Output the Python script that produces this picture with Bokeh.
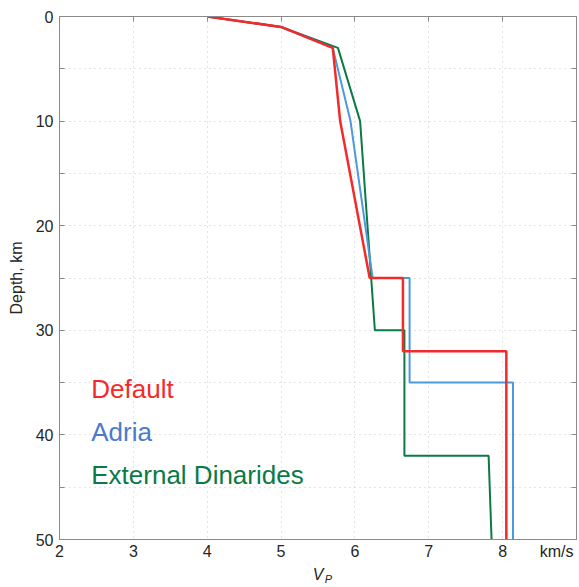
from bokeh.plotting import figure
from bokeh.models import Range1d, FixedTicker, LinearAxis
from bokeh.embed import file_html
from bokeh.resources import INLINE

# Data (Vp in km/s, depth in km)
vp_default = [4.0, 5.0, 5.7, 5.8, 6.2, 6.65, 6.65, 8.05, 8.05]
z_default = [0, 1, 3, 10, 25, 25, 32, 32, 50]
vp_adria = [4.0, 5.0, 5.7, 5.94, 6.24, 6.74, 6.74, 8.14, 8.14]
z_adria = [0, 1, 3, 10, 25, 25, 35, 35, 50]
vp_ext = [4.0, 5.0, 5.77, 6.07, 6.27, 6.67, 6.67, 7.81, 7.85]
z_ext = [0, 1, 3, 10, 30, 30, 42, 42, 50]

x_ticks = [2, 3, 4, 5, 6, 7, 8, 9]
y_ticks = [0, 5, 10, 15, 20, 25, 30, 35, 40, 45, 50]
legend_names = ["Default", "Adria", "External Dinarides"]
unit_label = "km/s"

RED = "#f32a2a"
BLUE = "#4c9ad8"
GREEN = "#0b7a45"
AX = "#8a8a8a"
TXT = "#262626"
FONT = "Liberation Sans"

p = figure(width=579, height=587, output_backend="svg", toolbar_location=None,
           x_range=Range1d(2, 9), y_range=Range1d(50, 0),
           min_border_left=59, min_border_right=3, min_border_top=16, min_border_bottom=47,
           outline_line_color=AX, outline_line_width=1)
p.xaxis.visible = False
p.yaxis.visible = False

xt = FixedTicker(ticks=x_ticks)
yt = FixedTicker(ticks=y_ticks)

def base_style(ax):
    ax.axis_line_color = AX
    ax.major_tick_line_color = AX
    ax.major_tick_in = 5
    ax.major_tick_out = 0
    ax.minor_tick_line_color = None
    ax.major_label_text_font = FONT
    ax.major_label_text_color = TXT

# bottom axis: numbers plus the unit label
unit_pos = 8.73
xb = LinearAxis(ticker=FixedTicker(ticks=x_ticks[:-1] + [unit_pos]),
                major_label_overrides={unit_pos: unit_label},
                axis_label="V")
base_style(xb)
xb.major_tick_in = 0
xb.major_label_text_font_size = "16px"
xb.major_label_standoff = 3
xb.axis_label_text_font = FONT
xb.axis_label_text_font_size = "16px"
xb.axis_label_text_font_style = "italic"
xb.axis_label_text_color = TXT
xb.axis_label_standoff = 3
p.add_layout(xb, "below")

# subscript P of V_P
sub_pos = 5.64
xs = LinearAxis(ticker=FixedTicker(ticks=[sub_pos]), major_label_overrides={sub_pos: "P"})
xs.axis_line_color = None
xs.major_tick_line_color = None
xs.minor_tick_line_color = None
xs.major_label_text_font = FONT
xs.major_label_text_font_size = "11px"
xs.major_label_text_font_style = "italic"
xs.major_label_text_color = TXT
xs.major_label_standoff = -19
p.add_layout(xs, "below")

yl = LinearAxis(ticker=yt, major_label_overrides={5: "", 15: "", 25: "", 35: "", 45: ""},
                axis_label="Depth, km")
base_style(yl)
yl.major_label_text_font_size = "16px"
yl.major_label_standoff = 6
yl.axis_label_text_font = FONT
yl.axis_label_text_font_size = "16px"
yl.axis_label_text_font_style = "normal"
yl.axis_label_text_color = TXT
yl.axis_label_standoff = 8
p.add_layout(yl, "left")

xa = LinearAxis(ticker=xt, major_label_overrides={t: "" for t in x_ticks})
base_style(xa)
xa.major_label_text_font_size = "6px"
xa.major_label_standoff = 0
p.add_layout(xa, "above")

yr = LinearAxis(ticker=yt, major_label_overrides={t: "" for t in y_ticks})
base_style(yr)
yr.major_label_text_font_size = "6px"
yr.major_label_standoff = 0
p.add_layout(yr, "right")

p.xgrid.ticker = xt
p.ygrid.ticker = yt
for g in (p.xgrid, p.ygrid):
    g.grid_line_color = "#c8c8c8"
    g.grid_line_dash = "1 4"
    g.grid_line_width = 1

p.line(vp_ext, z_ext, line_color=GREEN, line_width=2)
p.line(vp_adria, z_adria, line_color=BLUE, line_width=2)
p.line(vp_default, z_default, line_color=RED, line_width=2.5)

# legend-like texts
text_colors = [RED, "#4a7bcc", GREEN]
text_x = [2.43, 2.43, 2.43]
text_depths = [35.6, 39.7, 43.8]
p.text(x=text_x, y=text_depths, text=legend_names, text_color=text_colors,
       text_font={"value": FONT}, text_font_size="26px",
       text_baseline="alphabetic", text_align="left")

open("out.html", "w").write(file_html(p, INLINE))
